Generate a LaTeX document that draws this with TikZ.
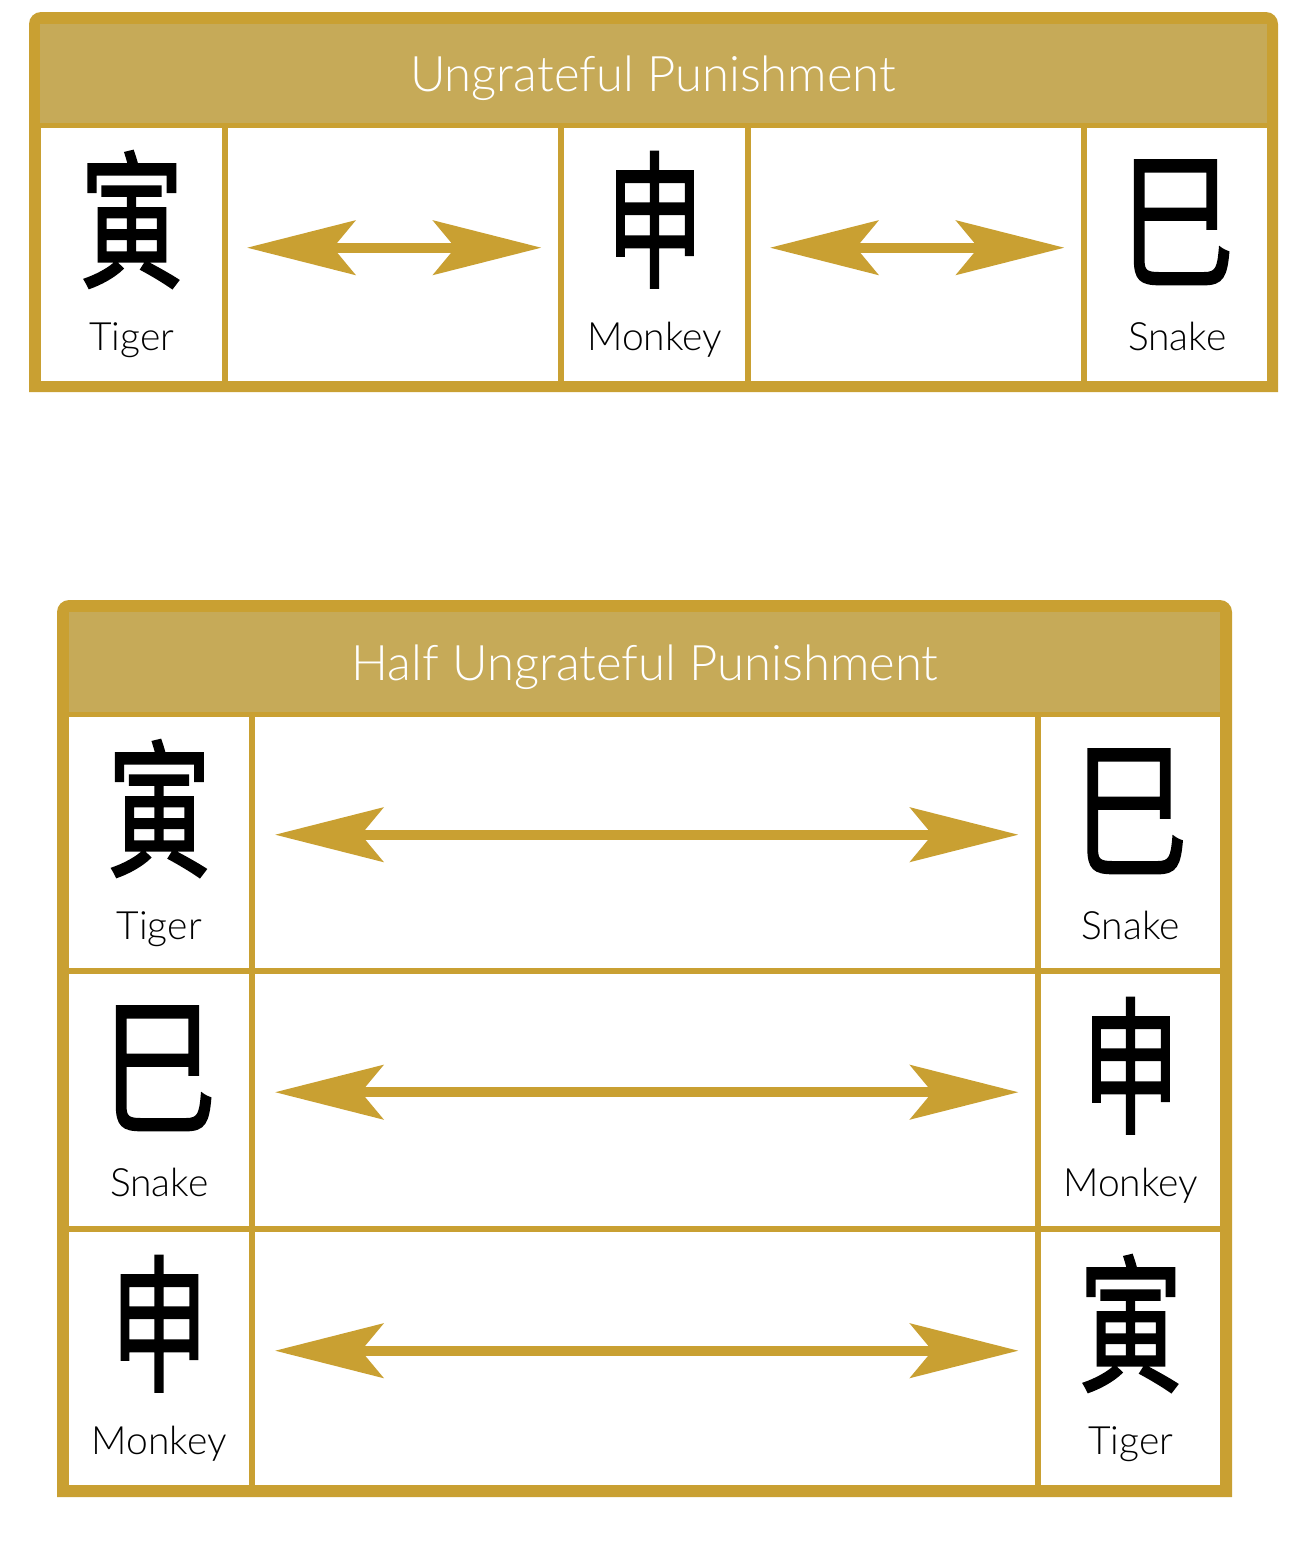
\documentclass[tikz,border=0pt]{standalone}
\usepackage{fontspec}
\setmainfont{Lato}[UprightFont=* Light]
\newfontfamily\cjk{Noto Sans CJK SC}[FakeBold=1.6]
\usetikzlibrary{positioning}
\usetikzlibrary{arrows.meta}

\definecolor{gold}{HTML}{C9A032}
\definecolor{goldhead}{HTML}{C6AA58}

\tikzset{
    cell/.style={fill=white, inner sep=0pt, anchor=north west},
    sign/.style={anchor=base, inner sep=0pt, font=\cjk\fontsize{148}{148}\selectfont},
    animal/.style={anchor=base, inner sep=0pt, font=\fontsize{39}{39}\selectfont},
    title/.style={anchor=base, inner sep=0pt, text=white, font=\fontsize{49}{49}\selectfont},
    garrow/.style={gold, line width=10pt, {Stealth[length=108pt, width=54pt, inset=22pt]}-{Stealth[length=108pt, width=54pt, inset=22pt]}}
}

\begin{document}
\begin{tikzpicture}[x=1pt, y=-1pt]

\useasboundingbox (0,0) rectangle (1290,1542);

% Top table frame
\fill[gold] (29,392) [rounded corners=12pt] -- (29,12) -- (1278,12) [sharp corners] -- (1278,392) -- cycle;
\fill[goldhead] (40,24) rectangle (1267,123);
\node[title] (head1) at (653,91) {Ungrateful Punishment};

% Top cells
\foreach \x/\w/\n in {41/181/t1, 228/330/a1, 564/181/m1, 751/330/a2, 1087/180/s1} {
    \node[cell, minimum width=\w pt, minimum height=253pt] (\n) at (\x,128) {};
}

% Signs and names
\foreach \n/\c/\s/\name in {t1/寅/0.7/Tiger, m1/申/0.66/Monkey, s1/巳/0.78/Snake} {
    \node[sign] (\n c) at ([yshift=-148pt]\n.north) {\scalebox{\s}[1]{\c}};
    \node[animal] (\n n) at ([yshift=-222pt]\n.north) {\name};
}

% Arrows
\foreach \n in {a1, a2} {
    \draw[garrow] ([xshift=19pt, yshift=7pt]\n.west) -- ([xshift=-17pt, yshift=7pt]\n.east);
}

% Bottom table frame
\fill[gold] (57,1497) [rounded corners=12pt] -- (57,600) -- (1232,600) [sharp corners] -- (1232,1497) -- cycle;
\fill[goldhead] (69,612) rectangle (1220,712);
\node[title] (head2) at (645,680) {Half Ungrateful Punishment};

% Bottom cells
\foreach \y/\h/\r in {717/251/1, 974/252/2, 1232/253/3} {
    \node[cell, minimum width=180pt, minimum height=\h pt] (l\r) at (69,\y) {};
    \node[cell, minimum width=780pt, minimum height=\h pt] (b\r) at (255,\y) {};
    \node[cell, minimum width=179pt, minimum height=\h pt] (r\r) at (1041,\y) {};
}

% Signs and names
\foreach \n/\c/\s/\name in {l1/寅/0.7/Tiger, r1/巳/0.78/Snake, l2/巳/0.78/Snake, r2/申/0.66/Monkey, l3/申/0.66/Monkey, r3/寅/0.7/Tiger} {
    \node[sign] (\n c) at ([yshift=-148pt]\n.north) {\scalebox{\s}[1]{\c}};
    \node[animal] (\n n) at ([yshift=-222pt]\n.north) {\name};
}

% Arrows
\foreach \r in {1,2,3} {
    \draw[garrow] ([xshift=20pt, yshift=8pt]b\r.west) -- ([xshift=-17pt, yshift=8pt]b\r.east);
}

\end{tikzpicture}
\end{document}
